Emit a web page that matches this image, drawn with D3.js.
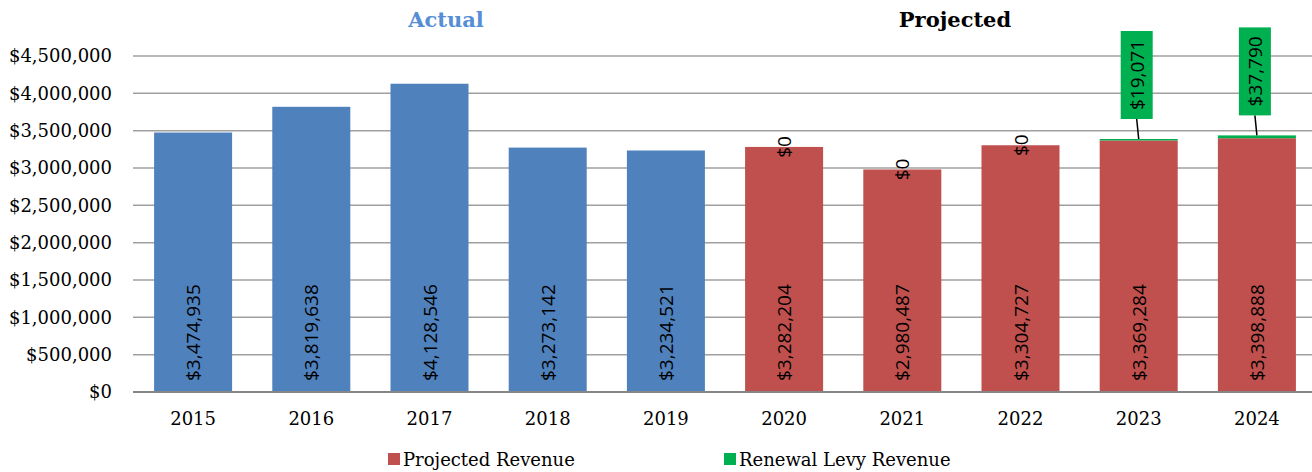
<!DOCTYPE html>
<html>
<head>
<meta charset="utf-8">
<script src="https://cdn.jsdelivr.net/npm/d3@7"></script>
<style>
  body { margin: 0; background: #fff; }
  svg { display: block; }
</style>
</head>
<body>
<svg id="chart" width="1312" height="472"></svg>
<script>
const years = ["2015", "2016", "2017", "2018", "2019", "2020", "2021", "2022", "2023", "2024"];
const actualRevenue = [3474935, 3819638, 4128546, 3273142, 3234521, null, null, null, null, null];
const projectedRevenue = [null, null, null, null, null, 3282204, 2980487, 3304727, 3369284, 3398888];
const levyRevenue = [null, null, null, null, null, 0, 0, 0, 19071, 37790];
const yTicks = [0, 500000, 1000000, 1500000, 2000000, 2500000, 3000000, 3500000, 4000000, 4500000];

const svg = d3.select("#chart");
const width = 1312;
const serif = "'DejaVu Serif', serif";
const sans = "'Open Sans', sans-serif";
const fmt = (d) => "$" + d3.format(",")(d);

const xScale = d3.scaleBand().domain(years).range([134, 1316]).paddingInner(0.34).paddingOuter(0.17);
const yScale = d3.scaleLinear().domain([0, 4500000]).range([392, 56]);

// gridlines
svg
  .append("g")
  .selectAll("line")
  .data(yTicks.slice(1))
  .enter()
  .append("line")
  .attr("x1", 133)
  .attr("x2", width)
  .attr("y1", (d) => yScale(d))
  .attr("y2", (d) => yScale(d))
  .attr("stroke", "#a0a0a0")
  .attr("stroke-width", 1.5);

// y-axis labels
svg
  .append("g")
  .attr("transform", "translate(112, 0)")
  .call(d3.axisLeft(yScale).tickValues(yTicks).tickFormat(fmt).tickSize(0).tickPadding(0))
  .call((g) => g.select(".domain").remove())
  .call((g) =>
    g.selectAll("text").style("font-family", serif).style("font-size", "18px").attr("fill", "#000")
  );

// actual bars
svg
  .append("g")
  .selectAll("rect")
  .data(years.filter((y, i) => actualRevenue[i] !== null))
  .enter()
  .append("rect")
  .attr("x", (d) => xScale(d))
  .attr("width", xScale.bandwidth())
  .attr("y", (d) => yScale(actualRevenue[years.indexOf(d)]))
  .attr("height", (d) => 392 - yScale(actualRevenue[years.indexOf(d)]))
  .attr("fill", "#4f81bd");

// projected bars
const projYears = years.filter((y, i) => projectedRevenue[i] !== null);
svg
  .append("g")
  .selectAll("rect")
  .data(projYears)
  .enter()
  .append("rect")
  .attr("x", (d) => xScale(d))
  .attr("width", xScale.bandwidth())
  .attr("y", (d) => yScale(projectedRevenue[years.indexOf(d)]))
  .attr("height", (d) => 392 - yScale(projectedRevenue[years.indexOf(d)]))
  .attr("fill", "#c0504d");

// levy bars stacked on top
svg
  .append("g")
  .selectAll("rect")
  .data(projYears)
  .enter()
  .append("rect")
  .attr("x", (d) => xScale(d))
  .attr("width", xScale.bandwidth())
  .attr("y", (d) => {
    const i = years.indexOf(d);
    return yScale(projectedRevenue[i] + levyRevenue[i]);
  })
  .attr("height", (d) => {
    const i = years.indexOf(d);
    return yScale(projectedRevenue[i]) - yScale(projectedRevenue[i] + levyRevenue[i]);
  })
  .attr("fill", "#00b050");

// x-axis
svg
  .append("g")
  .attr("transform", "translate(0, 392)")
  .call(d3.axisBottom(xScale).tickSize(0).tickPadding(20))
  .call((g) => g.select(".domain").remove())
  .call((g) =>
    g.selectAll("text").style("font-family", serif).style("font-size", "18px").attr("fill", "#000")
  );

svg
  .append("line")
  .attr("x1", 133)
  .attr("x2", width)
  .attr("y1", 392)
  .attr("y2", 392)
  .attr("stroke", "#868686")
  .attr("stroke-width", 2);

// value labels inside bars
const baseValue = years.map((y, i) => (actualRevenue[i] !== null ? actualRevenue[i] : projectedRevenue[i]));
svg
  .append("g")
  .selectAll("text")
  .data(years)
  .enter()
  .append("text")
  .attr("transform", (d) => `translate(${xScale(d) + xScale.bandwidth() / 2 + 7}, 381) rotate(-90)`)
  .attr("text-anchor", "start")
  .style("font-family", sans)
  .style("font-size", "19px")
  .attr("fill", "#000")
  .text((d, i) => fmt(baseValue[i]));

// levy labels: $0 at bar top
const zeroYears = projYears.filter((d) => levyRevenue[years.indexOf(d)] === 0);
svg
  .append("g")
  .selectAll("text")
  .data(zeroYears)
  .enter()
  .append("text")
  .attr("transform", (d) => {
    const i = years.indexOf(d);
    return `translate(${xScale(d) + xScale.bandwidth() / 2 + 7}, ${yScale(projectedRevenue[i])}) rotate(-90)`;
  })
  .attr("text-anchor", "middle")
  .style("font-family", sans)
  .style("font-size", "19px")
  .attr("fill", "#000")
  .text((d) => fmt(levyRevenue[years.indexOf(d)]));

// levy labels: callout boxes
const boxYears = projYears.filter((d) => levyRevenue[years.indexOf(d)] > 0);
const callouts = svg
  .append("g")
  .selectAll("g")
  .data(boxYears)
  .enter()
  .append("g");

callouts.each(function (d) {
  const i = years.indexOf(d);
  const g = d3.select(this);
  const cx = xScale(d) + xScale.bandwidth() / 2;
  const top = yScale(projectedRevenue[i] + levyRevenue[i]);
  const boxBottom = top - 20;
  const boxH = 88;
  const boxW = 32;
  const bx = cx - 2;
  g.append("line")
    .attr("x1", bx)
    .attr("y1", boxBottom)
    .attr("x2", cx)
    .attr("y2", top)
    .attr("stroke", "#000")
    .attr("stroke-width", 1.5);
  g.append("rect")
    .attr("x", bx - boxW / 2)
    .attr("y", boxBottom - boxH)
    .attr("width", boxW)
    .attr("height", boxH)
    .attr("fill", "#00b050");
  g.append("text")
    .attr("transform", `translate(${bx + 7}, ${boxBottom - boxH / 2}) rotate(-90)`)
    .attr("text-anchor", "middle")
    .style("font-family", sans)
    .style("font-size", "19px")
    .attr("fill", "#000")
    .text(fmt(levyRevenue[i]));
});

// headings
svg
  .append("text")
  .attr("x", 446)
  .attr("y", 27)
  .attr("text-anchor", "middle")
  .style("font-family", serif)
  .style("font-size", "21px")
  .style("font-weight", "bold")
  .attr("fill", "#558ed5")
  .text("Actual");

svg
  .append("text")
  .attr("x", 955)
  .attr("y", 27)
  .attr("text-anchor", "middle")
  .style("font-family", serif)
  .style("font-size", "21px")
  .style("font-weight", "bold")
  .attr("fill", "#000")
  .text("Projected");

// legend
const legendItems = [
  { label: "Projected Revenue", color: "#c0504d", x: 388 },
  { label: "Renewal Levy Revenue", color: "#00b050", x: 724 },
];
const legend = svg
  .append("g")
  .selectAll("g")
  .data(legendItems)
  .enter()
  .append("g")
  .attr("transform", (d) => `translate(${d.x}, 459)`);

legend
  .append("rect")
  .attr("x", 0)
  .attr("y", -6)
  .attr("width", 12)
  .attr("height", 12)
  .attr("fill", (d) => d.color);

legend
  .append("text")
  .attr("x", 15)
  .attr("y", 7)
  .style("font-family", serif)
  .style("font-size", "18px")
  .attr("fill", "#000")
  .text((d) => d.label);
</script>
</body>
</html>
